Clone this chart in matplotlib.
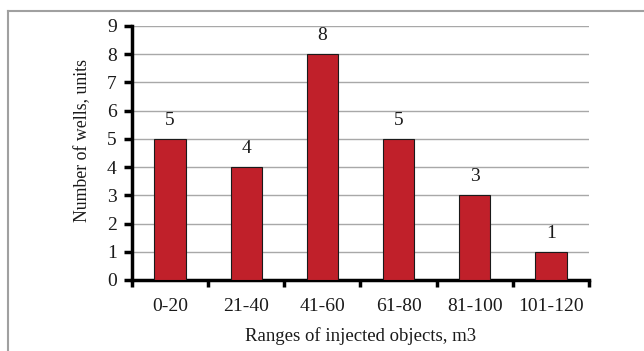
import matplotlib
matplotlib.use("Agg")
import matplotlib.pyplot as plt
from matplotlib.lines import Line2D

categories = ["0-20", "21-40", "41-60", "61-80", "81-100", "101-120"]
values = [5, 4, 8, 5, 3, 1]
yticks = list(range(0, 10))

plt.rcParams['font.family'] = ['Liberation Serif', 'DejaVu Serif']

fig = plt.figure(figsize=(6.44, 3.51), dpi=100)
ax = fig.add_axes([132/644, 1-280/351, (589-132)/644, (280-26)/351])

x = list(range(len(categories)))
bars = ax.bar(x, values, width=0.41, color="#C0202A", edgecolor="#1a1a1a", linewidth=0.8, zorder=3)
for xi, v in zip(x, values):
    ax.text(xi, v + 0.35, str(v), ha="center", va="bottom", fontsize=14, color="#1a1a1a")

ax.set_xlim(-0.5, len(categories) - 0.5)
ax.set_ylim(0, 9)
ax.set_yticks(yticks)
ax.set_yticklabels([str(t) for t in yticks], fontsize=14, color="#1a1a1a")
ax.yaxis.grid(True, color="#a8a8a8", linewidth=1.0, zorder=0)
ax.set_axisbelow(True)

ax.set_xticks(x)
ax.set_xticklabels(categories, fontsize=14, color="#1a1a1a")
ax.tick_params(axis="x", length=0, pad=13)
ax.set_xticks([i - 0.5 for i in range(len(categories) + 1)], minor=True)
ax.tick_params(axis="x", which="minor", length=5, width=2.5, color="black", direction="out")
ax.tick_params(axis="y", length=6, width=2.5, color="black", direction="out", pad=5)

for s in ["top", "right"]:
    ax.spines[s].set_visible(False)
for s in ["left", "bottom"]:
    ax.spines[s].set_linewidth(2.5)
    ax.spines[s].set_color("black")

ax.set_xlabel("Ranges of injected objects, m3", fontsize=13.5, color="#1a1a1a", labelpad=9)
ax.set_ylabel("Number of wells, units", fontsize=12.8, color="#1a1a1a")
ax.yaxis.set_label_coords(-41/457, (280-140)/254)

# outer frame (top and left edges)
fig.add_artist(Line2D([8/644, 1], [1-11/351, 1-11/351], transform=fig.transFigure, color="#a0a0a0", linewidth=1.5))
fig.add_artist(Line2D([8/644, 8/644], [0, 1-11/351], transform=fig.transFigure, color="#a0a0a0", linewidth=1.5))

fig.savefig("out.png", dpi=100)
